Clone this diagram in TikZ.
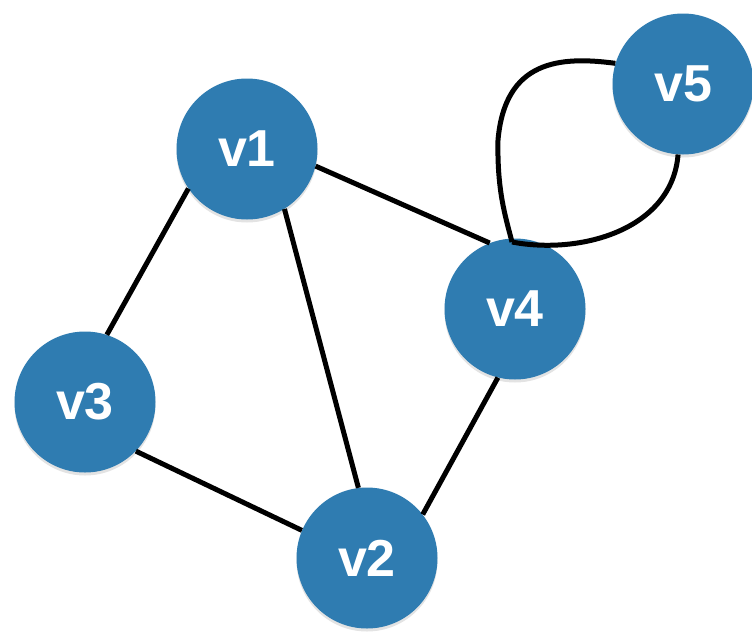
\documentclass[tikz,border=0pt]{standalone}
\usepackage{fontspec}
\setmainfont{Liberation Sans}
\usetikzlibrary{shadows}
\definecolor{nodeblue}{RGB}{47,124,177}
\tikzset{
  vert/.style={circle, fill=nodeblue, minimum size=141pt, inner sep=0pt,
    text=white, font=\fontsize{52}{52}\selectfont\bfseries,
    drop shadow={opacity=0.22, shadow xshift=0pt, shadow yshift=-3pt}},
  edge/.style={draw=black, line width=5pt},
}
\begin{document}
\begin{tikzpicture}[x=1pt,y=-1pt]
\useasboundingbox (0,0) rectangle (752,637);
\node[vert] (v1) at (247,149) {v1};
\node[vert] (v3) at (85,402) {v3};
\node[vert] (v2) at (367,558) {v2};
\node[vert] (v4) at (515,309) {v4};
\node[vert] (v5) at (683,84) {v5};
\draw[edge] (v1.-14) -- (v4.111);
\draw[edge] (v1.-146) -- (v3.72);
\draw[edge] (v1.-58) -- (v2.97);
\draw[edge] (v3.-44) -- (v2.157);
\draw[edge] (v4.-104) -- (v2.38);
\coordinate (m) at (512,242);
\draw[edge, line join=round] (v5.163) .. controls (560,56) and (505,60) .. (498,140)
  .. controls (497,190) and (505,215) .. (m);
\draw[edge] (v5.-94) .. controls (672,230) and (580,255) .. (m);
\end{tikzpicture}
\end{document}
